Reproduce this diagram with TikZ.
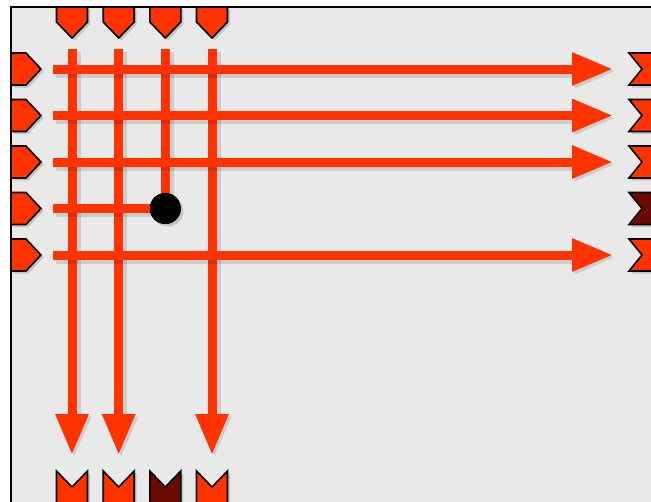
\documentclass[tikz,border=0pt]{standalone}
\usepackage{tikz}
\usetikzlibrary{arrows.meta, shadows}
\definecolor{wireA}{RGB}{255, 51, 0}
\definecolor{darkA}{RGB}{107, 10, 0}
\definecolor{paneA}{RGB}{233, 233, 233}

\tikzset{
  wire/.style={draw=wireA, line width=9pt,
    preaction={draw=black, line width=12pt, opacity=0.12, transform canvas={shift={(2.5pt,-2.5pt)}}},
    preaction={draw=black, opacity=0.3, transform canvas={shift={(2pt,-2pt)}}}},
  head/.style={-{Triangle[length=41pt, width=31pt]}},
  tab/.style={draw=black, line width=1.6pt, line join=miter, fill=#1,
    drop shadow={shadow xshift=2.5pt, shadow yshift=-2.5pt, opacity=0.35}},
  tab/.default=wireA
}

\begin{document}
\begin{tikzpicture}[x=1pt, y=-1pt]
  \useasboundingbox (0,0) rectangle (651,501);
  \clip (0,0) rectangle (651,501);

  \path[draw, fill=paneA, line width=1.4pt] (11,7) rectangle (700,560);

  % wire ends
  \coordinate (h1a) at (53,69);    \coordinate (h1b) at (613,69);
  \coordinate (h2a) at (53,115.5); \coordinate (h2b) at (613,115.5);
  \coordinate (h3a) at (53,162);   \coordinate (h3b) at (613,162);
  \coordinate (h4a) at (53,208.5);
  \coordinate (h5a) at (53,255);   \coordinate (h5b) at (613,255);

  \coordinate (v1a) at (72,49);    \coordinate (v1b) at (72,455);
  \coordinate (v2a) at (118.7,49); \coordinate (v2b) at (118.7,455);
  \coordinate (v3a) at (165.3,49);
  \coordinate (v4a) at (212,49);   \coordinate (v4b) at (212,455);

  % top tabs
  \path[tab] (56.5,7)  -- (87.5,7)  -- (87.5,22)  -- (72,38)    -- (56.5,22)  -- cycle;
  \path[tab] (103.2,7) -- (134.2,7) -- (134.2,22) -- (118.7,38) -- (103.2,22) -- cycle;
  \path[tab] (149.8,7) -- (180.8,7) -- (180.8,22) -- (165.3,38) -- (149.8,22) -- cycle;
  \path[tab] (196.5,7) -- (227.5,7) -- (227.5,22) -- (212,38)   -- (196.5,22) -- cycle;

  % left tabs
  \path[tab] (11,53)    -- (26,53)    -- (41,69)    -- (26,85)    -- (11,85)    -- cycle;
  \path[tab] (11,99.5)  -- (26,99.5)  -- (41,115.5) -- (26,131.5) -- (11,131.5) -- cycle;
  \path[tab] (11,146)   -- (26,146)   -- (41,162)   -- (26,178)   -- (11,178)   -- cycle;
  \path[tab] (11,192.5) -- (26,192.5) -- (41,208.5) -- (26,224.5) -- (11,224.5) -- cycle;
  \path[tab] (11,239)   -- (26,239)   -- (41,255)   -- (26,271)   -- (11,271)   -- cycle;

  % right tabs
  \path[tab]        (629,53)    -- (670,53)    -- (670,85)    -- (629,85)    -- (642,69)    -- cycle;
  \path[tab]        (629,99.5)  -- (670,99.5)  -- (670,131.5) -- (629,131.5) -- (642,115.5) -- cycle;
  \path[tab]        (629,146)   -- (670,146)   -- (670,178)   -- (629,178)   -- (642,162)   -- cycle;
  \path[tab=darkA]  (629,192.5) -- (670,192.5) -- (670,224.5) -- (629,224.5) -- (642,208.5) -- cycle;
  \path[tab]        (629,239)   -- (670,239)   -- (670,271)   -- (629,271)   -- (642,255)   -- cycle;

  % bottom tabs
  \path[tab]        (56.5,471)  -- (72,487)    -- (87.5,471)  -- (87.5,520)  -- (56.5,520)  -- cycle;
  \path[tab]        (103.2,471) -- (118.7,487) -- (134.2,471) -- (134.2,520) -- (103.2,520) -- cycle;
  \path[tab=darkA]  (149.8,471) -- (165.3,487) -- (180.8,471) -- (180.8,520) -- (149.8,520) -- cycle;
  \path[tab]        (196.5,471) -- (212,487)   -- (227.5,471) -- (227.5,520) -- (196.5,520) -- cycle;

  \node[circle, fill=black, inner sep=0pt, minimum size=31pt,
        drop shadow={shadow xshift=2.5pt, shadow yshift=-2.5pt, opacity=0.35}] (dot) at (165.3,208.5) {};

  % vertical wires
  \draw[wire, head] (v1a) -- (v1b);
  \draw[wire, head] (v2a) -- (v2b);
  \draw[wire]       (v3a) -- (dot);
  \draw[wire, head] (v4a) -- (v4b);

  % horizontal wires
  \draw[wire, head] (h1a) -- (h1b);
  \draw[wire, head] (h2a) -- (h2b);
  \draw[wire, head] (h3a) -- (h3b);
  \draw[wire]       (h4a) -- (dot);
  \draw[wire, head] (h5a) -- (h5b);

  \node[circle, fill=black, inner sep=0pt, minimum size=31pt] at (dot) {};
\end{tikzpicture}
\end{document}
